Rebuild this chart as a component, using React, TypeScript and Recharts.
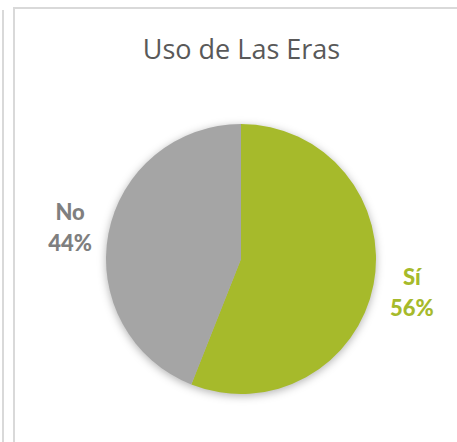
import React from 'react';
import { PieChart, Pie, Cell } from 'recharts';

const categories = ['Sí', 'No'];
const values = [56, 44];
const colors = ['#A6BA2B', '#A5A5A5'];
const labelColors = ['#A6BA2B', '#7F7F7F'];
const title = 'Uso de Las Eras';

const data = categories.map((name, i) => ({ name, value: values[i] }));

const RAD = Math.PI / 180;

const renderLabel = (props: any) => {
  const { cx, cy, midAngle, index, percent, name } = props;
  const r = 174;
  const x = cx + r * Math.cos(-midAngle * RAD);
  const y = cy + r * Math.sin(-midAngle * RAD);
  return (
    <text
      x={x}
      y={y}
      textAnchor="middle"
      fill={labelColors[index]}
      fontFamily="Lato, 'Open Sans', sans-serif"
      fontWeight={900}
      fontSize={22}
    >
      <tspan x={x} y={y - 15} dominantBaseline="central">{name}</tspan>
      <tspan x={x} y={y + 16} dominantBaseline="central">{`${Math.round(percent * 100)}%`}</tspan>
    </text>
  );
};

const pieProps = {
  dataKey: 'value',
  nameKey: 'name',
  cx: 241,
  cy: 259,
  outerRadius: 135,
  startAngle: 90,
  endAngle: -270,
  stroke: 'none',
  isAnimationActive: false,
};

export default function App() {
  return (
    <div style={{ position: 'absolute', left: 0, top: 0, width: 457, height: 442, background: '#fff' }}>
      <div style={{ position: 'absolute', left: 2, top: 10, width: 2, height: 432, background: '#d9d9d9' }} />
      <div
        style={{
          position: 'absolute',
          left: 13,
          top: 7,
          width: 444,
          height: 435,
          borderLeft: '2px solid #d9d9d9',
          borderTop: '2px solid #d9d9d9',
          boxSizing: 'border-box',
        }}
      />
      <div
        style={{
          position: 'absolute',
          left: 0,
          top: 31,
          width: 483,
          textAlign: 'center',
          fontFamily: "'Open Sans', sans-serif",
          fontSize: 27,
          color: '#595959',
          lineHeight: '36px',
        }}
      >
        {title}
      </div>
      <div style={{ position: 'absolute', left: 0, top: 0, filter: 'drop-shadow(0px 2px 4px rgba(0,0,0,0.3))' }}>
        <PieChart width={457} height={442} margin={{ top: 0, right: 0, bottom: 0, left: 0 }}>
          <Pie data={data} {...pieProps} label={false} labelLine={false}>
            {data.map((d, i) => (
              <Cell key={d.name} fill={colors[i]} />
            ))}
          </Pie>
        </PieChart>
      </div>
      <div style={{ position: 'absolute', left: 0, top: 0 }}>
        <PieChart width={457} height={442} margin={{ top: 0, right: 0, bottom: 0, left: 0 }}>
          <Pie data={data} {...pieProps} fill="none" label={renderLabel} labelLine={false}>
            {data.map((d) => (
              <Cell key={d.name} fill="none" />
            ))}
          </Pie>
        </PieChart>
      </div>
    </div>
  );
}
